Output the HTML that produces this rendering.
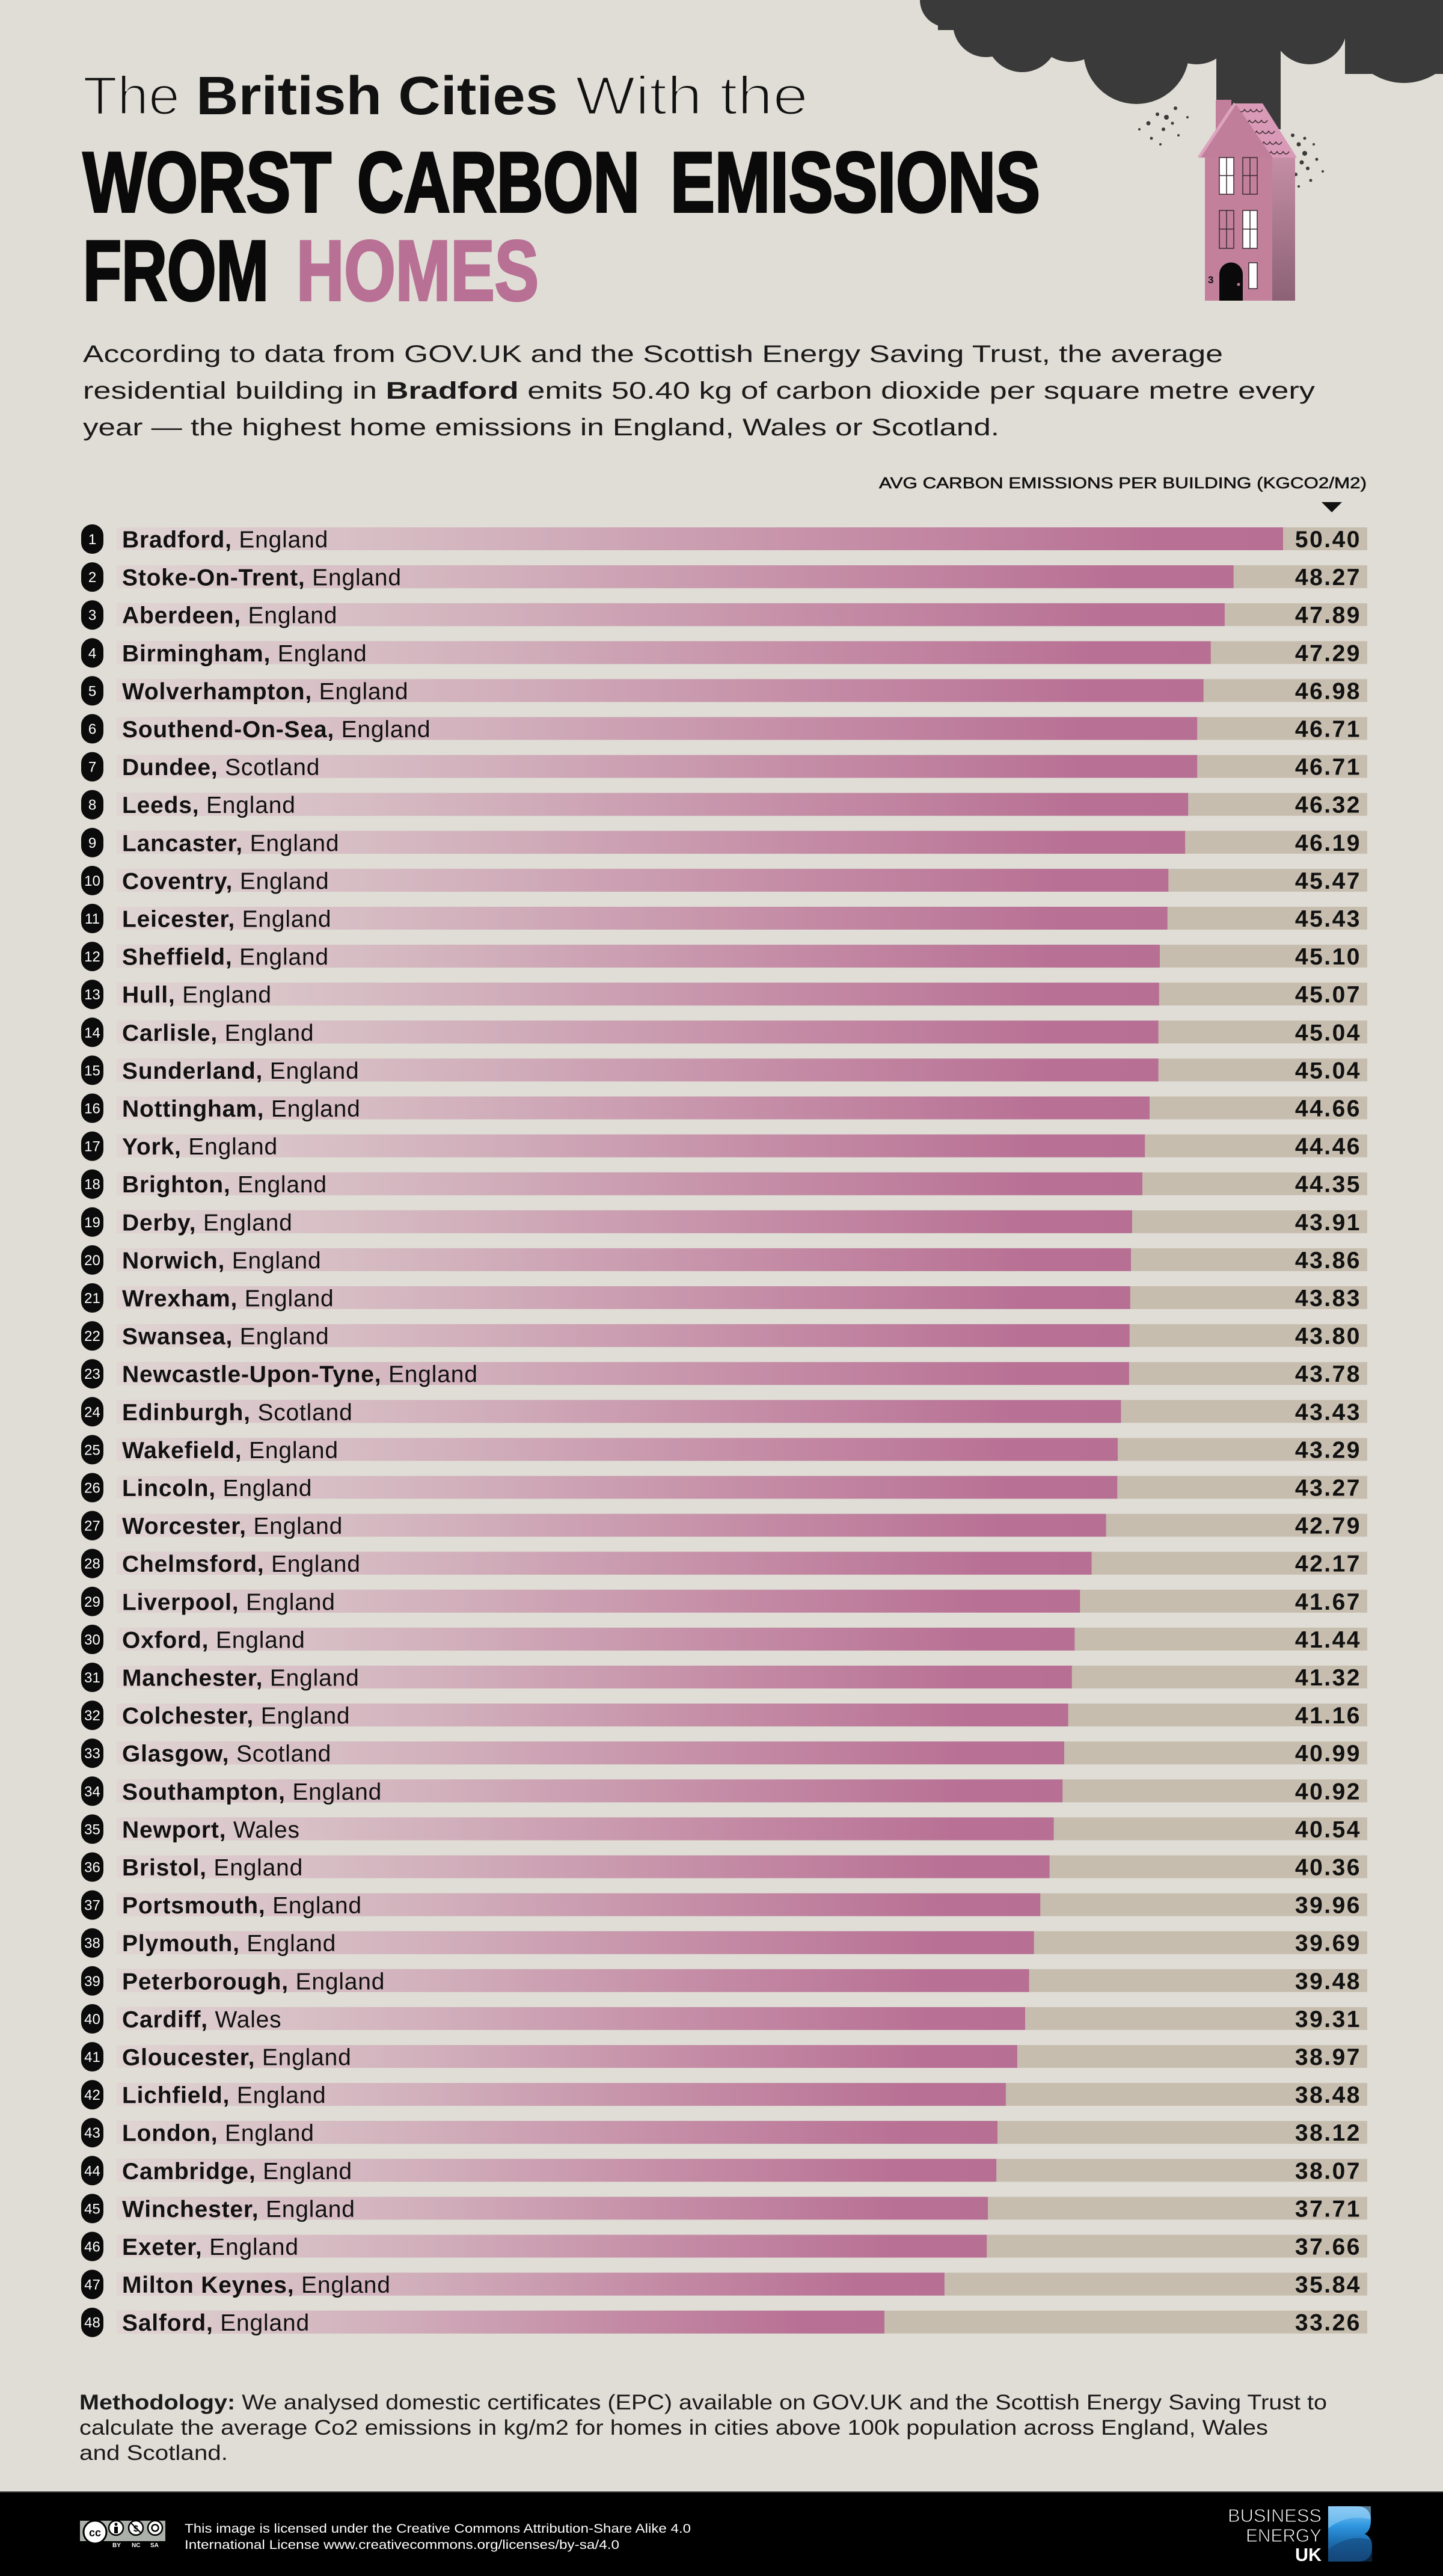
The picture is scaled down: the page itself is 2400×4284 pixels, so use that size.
<!DOCTYPE html>
<html>
<head>
<meta charset="utf-8">
<style>
html,body{margin:0;padding:0;background:#e0ddd6;}
body{width:2400px;height:4284px;overflow:hidden;}
svg{display:block;}
.t{fill:#c6bdaf}
.p{fill:url(#pg)}
.b{fill:#0b0b0b}
.k{fill:#fff;font-size:24px;text-anchor:middle;font-family:"Liberation Sans",Arial,sans-serif}
.n{font-size:39px;letter-spacing:0.8px;fill:#111;font-family:"Liberation Sans",Arial,sans-serif}
.bd{font-weight:700}
.v{font-size:39px;font-weight:700;text-anchor:end;letter-spacing:2.5px;fill:#111;font-family:"Liberation Sans",Arial,sans-serif}
text{font-family:"Liberation Sans",Arial,sans-serif}
</style>
</head>
<body>
<svg width="2400" height="4284" viewBox="0 0 2400 4284" xmlns="http://www.w3.org/2000/svg">
<defs>
<linearGradient id="pg" x1="0" y1="0" x2="1" y2="0">
<stop offset="0" stop-color="#e0d5d3"/>
<stop offset="0.35" stop-color="#d1afbb"/>
<stop offset="0.65" stop-color="#c48ba5"/>
<stop offset="0.9" stop-color="#b87094"/>
<stop offset="1" stop-color="#b76f94"/>
</linearGradient>
<linearGradient id="side" x1="0" y1="0" x2="0" y2="1">
<stop offset="0" stop-color="#c48ea4"/>
<stop offset="1" stop-color="#8c6176"/>
</linearGradient>
<linearGradient id="blu" x1="0" y1="0" x2="0" y2="1">
<stop offset="0" stop-color="#8fcdf7"/>
<stop offset="0.35" stop-color="#2f97e0"/>
<stop offset="0.65" stop-color="#1c6db0"/>
<stop offset="1" stop-color="#154a80"/>
</linearGradient>
</defs>
<rect x="0" y="0" width="2400" height="4284" fill="#e0ddd6"/>

<!-- cloud -->
<g fill="#3a3a3a">
<rect x="1560" y="0" width="840" height="50"/>
<circle cx="1575" cy="0" r="45"/>
<circle cx="1640" cy="40" r="55"/>
<circle cx="1700" cy="60" r="60"/>
<circle cx="1780" cy="40" r="63"/>
<circle cx="1890" cy="85" r="88"/>
<circle cx="1990" cy="45" r="62"/>
<rect x="2023" y="0" width="107" height="215"/>
<circle cx="2178" cy="45" r="62"/>
<circle cx="2335" cy="40" r="98"/>
<rect x="2237" y="0" width="163" height="123"/>
<circle cx="1955" cy="180" r="3"/><circle cx="1940" cy="195" r="4"/><circle cx="1925" cy="190" r="3"/>
<circle cx="1910" cy="205" r="3.5"/><circle cx="1935" cy="215" r="3"/><circle cx="1950" cy="205" r="2.5"/>
<circle cx="1915" cy="230" r="2.5"/><circle cx="1960" cy="225" r="2"/><circle cx="1895" cy="215" r="2"/>
<circle cx="1975" cy="195" r="2"/><circle cx="1930" cy="240" r="2"/>
<circle cx="2150" cy="225" r="3"/><circle cx="2160" cy="240" r="3.5"/><circle cx="2170" cy="255" r="4"/>
<circle cx="2165" cy="270" r="3.5"/><circle cx="2175" cy="280" r="3"/><circle cx="2155" cy="290" r="3"/>
<circle cx="2180" cy="300" r="2.5"/><circle cx="2190" cy="265" r="2.5"/><circle cx="2185" cy="240" r="2"/>
<circle cx="2160" cy="310" r="2"/><circle cx="2200" cy="285" r="2"/><circle cx="2170" cy="230" r="2.5"/>
<circle cx="2150" cy="260" r="3"/>
</g>

<!-- house -->
<rect x="2022" y="166" width="26" height="60" fill="#c27f9c"/>
<polygon points="2054,172 2100,172 2157,262 2117,262" fill="#d89ab6"/>
<g stroke="#3b2a31" stroke-width="1.5" fill="none">
<path d="M2060,182 q5,8 10,0 q5,8 10,0 q5,8 10,0 q5,8 10,0"/>
<path d="M2068,200 q5,8 10,0 q5,8 10,0 q5,8 10,0 q5,8 10,0"/>
<path d="M2080,218 q5,8 10,0 q5,8 10,0 q5,8 10,0 q5,8 10,0"/>
<path d="M2092,236 q5,8 10,0 q5,8 10,0 q5,8 10,0 q5,8 10,0"/>
<path d="M2104,252 q5,8 10,0 q5,8 10,0 q5,8 10,0 q5,8 10,0"/>
</g>
<polygon points="1994,262 2054,172 2117,262" fill="#c07e9a"/>
<path d="M1994,262 L2054,172" stroke="#dca5bd" stroke-width="5"/>
<rect x="2004" y="262" width="112" height="238" fill="#c2809b"/>
<rect x="2116" y="262" width="38" height="238" fill="url(#side)"/>
<g stroke="#3b2a31" stroke-width="1.5">
<rect x="2028" y="262" width="24" height="61" fill="#fff"/>
<rect x="2067" y="262" width="24" height="61" fill="#c2809b"/>
<rect x="2028" y="350" width="24" height="63" fill="#c2809b"/>
<rect x="2067" y="350" width="24" height="63" fill="#fff"/>
<line x1="2040" y1="262" x2="2040" y2="323"/><line x1="2028" y1="292" x2="2052" y2="292"/>
<line x1="2079" y1="262" x2="2079" y2="323"/><line x1="2067" y1="292" x2="2091" y2="292"/>
<line x1="2040" y1="350" x2="2040" y2="413"/><line x1="2028" y1="381" x2="2052" y2="381"/>
<line x1="2079" y1="350" x2="2079" y2="413"/><line x1="2067" y1="381" x2="2091" y2="381"/>
<rect x="2077" y="437" width="14" height="43" fill="#fff"/>
</g>
<path d="M2028,500 V456 a19.5,19.5 0 0 1 39,0 V500 Z" fill="#0a0a0a"/>
<circle cx="2060" cy="473" r="2.5" fill="#c2809b"/>
<text x="2009" y="471" font-size="17" font-weight="700" fill="#111">3</text>

<!-- title -->
<text x="138" y="190" font-size="90" textLength="161" lengthAdjust="spacingAndGlyphs" fill="#111" stroke="#e0ddd6" stroke-width="3">The</text>
<text x="326" y="190" font-size="90" font-weight="700" textLength="602" lengthAdjust="spacingAndGlyphs" fill="#111">British Cities</text>
<text x="957" y="190" font-size="90" textLength="387" lengthAdjust="spacingAndGlyphs" fill="#111" stroke="#e0ddd6" stroke-width="3">With the</text>

<g font-size="142" font-weight="700" fill="#0a0a0a" stroke="#0a0a0a" stroke-width="4">
<text x="138" y="352" textLength="413" lengthAdjust="spacingAndGlyphs">WORST</text>
<text x="594" y="352" textLength="470" lengthAdjust="spacingAndGlyphs">CARBON</text>
<text x="1115" y="352" textLength="615" lengthAdjust="spacingAndGlyphs">EMISSIONS</text>
<text x="138" y="499" textLength="309" lengthAdjust="spacingAndGlyphs">FROM</text>
</g>
<text x="493" y="499" font-size="142" font-weight="700" fill="#b87094" stroke="#b87094" stroke-width="4" textLength="403" lengthAdjust="spacingAndGlyphs">HOMES</text>

<!-- paragraph -->
<g font-size="40" fill="#1a1a1a">
<text x="138" y="602" textLength="1896" lengthAdjust="spacingAndGlyphs">According to data from GOV.UK and the Scottish Energy Saving Trust, the average</text>
<text x="138" y="663" textLength="2049" lengthAdjust="spacingAndGlyphs">residential building in <tspan font-weight="700">Bradford</tspan> emits 50.40 kg of carbon dioxide per square metre every</text>
<text x="138" y="724" textLength="1524" lengthAdjust="spacingAndGlyphs">year — the highest home emissions in England, Wales or Scotland.</text>
</g>

<text x="1462" y="812" font-size="26" fill="#111" stroke="#111" stroke-width="0.6" textLength="811" lengthAdjust="spacingAndGlyphs">AVG CARBON EMISSIONS PER BUILDING (KGCO2/M2)</text>
<polygon points="2198,835 2232,835 2215,852" fill="#111"/>

<!-- rows -->
<g transform="translate(0,877)"><rect class="t" x="194" width="2080" height="38"/><rect class="p" x="194" width="1940.0" height="38"/><rect class="b" x="135" y="-5" width="37" height="49" rx="18.5"/><text class="k" x="153.5" y="28">1</text><text class="n" x="203" y="33.5"><tspan class="bd">Bradford,</tspan> England</text><text class="v" x="2264" y="33">50.40</text></g>
<g transform="translate(0,940.1)"><rect class="t" x="194" width="2080" height="38"/><rect class="p" x="194" width="1857.6" height="38"/><rect class="b" x="135" y="-5" width="37" height="49" rx="18.5"/><text class="k" x="153.5" y="28">2</text><text class="n" x="203" y="33.5"><tspan class="bd">Stoke-On-Trent,</tspan> England</text><text class="v" x="2264" y="33">48.27</text></g>
<g transform="translate(0,1003.2)"><rect class="t" x="194" width="2080" height="38"/><rect class="p" x="194" width="1842.9" height="38"/><rect class="b" x="135" y="-5" width="37" height="49" rx="18.5"/><text class="k" x="153.5" y="28">3</text><text class="n" x="203" y="33.5"><tspan class="bd">Aberdeen,</tspan> England</text><text class="v" x="2264" y="33">47.89</text></g>
<g transform="translate(0,1066.3)"><rect class="t" x="194" width="2080" height="38"/><rect class="p" x="194" width="1819.7" height="38"/><rect class="b" x="135" y="-5" width="37" height="49" rx="18.5"/><text class="k" x="153.5" y="28">4</text><text class="n" x="203" y="33.5"><tspan class="bd">Birmingham,</tspan> England</text><text class="v" x="2264" y="33">47.29</text></g>
<g transform="translate(0,1129.4)"><rect class="t" x="194" width="2080" height="38"/><rect class="p" x="194" width="1807.7" height="38"/><rect class="b" x="135" y="-5" width="37" height="49" rx="18.5"/><text class="k" x="153.5" y="28">5</text><text class="n" x="203" y="33.5"><tspan class="bd">Wolverhampton,</tspan> England</text><text class="v" x="2264" y="33">46.98</text></g>
<g transform="translate(0,1192.5)"><rect class="t" x="194" width="2080" height="38"/><rect class="p" x="194" width="1797.2" height="38"/><rect class="b" x="135" y="-5" width="37" height="49" rx="18.5"/><text class="k" x="153.5" y="28">6</text><text class="n" x="203" y="33.5"><tspan class="bd">Southend-On-Sea,</tspan> England</text><text class="v" x="2264" y="33">46.71</text></g>
<g transform="translate(0,1255.6)"><rect class="t" x="194" width="2080" height="38"/><rect class="p" x="194" width="1797.2" height="38"/><rect class="b" x="135" y="-5" width="37" height="49" rx="18.5"/><text class="k" x="153.5" y="28">7</text><text class="n" x="203" y="33.5"><tspan class="bd">Dundee,</tspan> Scotland</text><text class="v" x="2264" y="33">46.71</text></g>
<g transform="translate(0,1318.7)"><rect class="t" x="194" width="2080" height="38"/><rect class="p" x="194" width="1782.2" height="38"/><rect class="b" x="135" y="-5" width="37" height="49" rx="18.5"/><text class="k" x="153.5" y="28">8</text><text class="n" x="203" y="33.5"><tspan class="bd">Leeds,</tspan> England</text><text class="v" x="2264" y="33">46.32</text></g>
<g transform="translate(0,1381.8)"><rect class="t" x="194" width="2080" height="38"/><rect class="p" x="194" width="1777.1" height="38"/><rect class="b" x="135" y="-5" width="37" height="49" rx="18.5"/><text class="k" x="153.5" y="28">9</text><text class="n" x="203" y="33.5"><tspan class="bd">Lancaster,</tspan> England</text><text class="v" x="2264" y="33">46.19</text></g>
<g transform="translate(0,1444.9)"><rect class="t" x="194" width="2080" height="38"/><rect class="p" x="194" width="1749.3" height="38"/><rect class="b" x="135" y="-5" width="37" height="49" rx="18.5"/><text class="k" x="153.5" y="28">10</text><text class="n" x="203" y="33.5"><tspan class="bd">Coventry,</tspan> England</text><text class="v" x="2264" y="33">45.47</text></g>
<g transform="translate(0,1508)"><rect class="t" x="194" width="2080" height="38"/><rect class="p" x="194" width="1747.7" height="38"/><rect class="b" x="135" y="-5" width="37" height="49" rx="18.5"/><text class="k" x="153.5" y="28">11</text><text class="n" x="203" y="33.5"><tspan class="bd">Leicester,</tspan> England</text><text class="v" x="2264" y="33">45.43</text></g>
<g transform="translate(0,1571.1)"><rect class="t" x="194" width="2080" height="38"/><rect class="p" x="194" width="1735.0" height="38"/><rect class="b" x="135" y="-5" width="37" height="49" rx="18.5"/><text class="k" x="153.5" y="28">12</text><text class="n" x="203" y="33.5"><tspan class="bd">Sheffield,</tspan> England</text><text class="v" x="2264" y="33">45.10</text></g>
<g transform="translate(0,1634.2)"><rect class="t" x="194" width="2080" height="38"/><rect class="p" x="194" width="1733.8" height="38"/><rect class="b" x="135" y="-5" width="37" height="49" rx="18.5"/><text class="k" x="153.5" y="28">13</text><text class="n" x="203" y="33.5"><tspan class="bd">Hull,</tspan> England</text><text class="v" x="2264" y="33">45.07</text></g>
<g transform="translate(0,1697.3)"><rect class="t" x="194" width="2080" height="38"/><rect class="p" x="194" width="1732.6" height="38"/><rect class="b" x="135" y="-5" width="37" height="49" rx="18.5"/><text class="k" x="153.5" y="28">14</text><text class="n" x="203" y="33.5"><tspan class="bd">Carlisle,</tspan> England</text><text class="v" x="2264" y="33">45.04</text></g>
<g transform="translate(0,1760.4)"><rect class="t" x="194" width="2080" height="38"/><rect class="p" x="194" width="1732.6" height="38"/><rect class="b" x="135" y="-5" width="37" height="49" rx="18.5"/><text class="k" x="153.5" y="28">15</text><text class="n" x="203" y="33.5"><tspan class="bd">Sunderland,</tspan> England</text><text class="v" x="2264" y="33">45.04</text></g>
<g transform="translate(0,1823.5)"><rect class="t" x="194" width="2080" height="38"/><rect class="p" x="194" width="1718.0" height="38"/><rect class="b" x="135" y="-5" width="37" height="49" rx="18.5"/><text class="k" x="153.5" y="28">16</text><text class="n" x="203" y="33.5"><tspan class="bd">Nottingham,</tspan> England</text><text class="v" x="2264" y="33">44.66</text></g>
<g transform="translate(0,1886.6)"><rect class="t" x="194" width="2080" height="38"/><rect class="p" x="194" width="1710.2" height="38"/><rect class="b" x="135" y="-5" width="37" height="49" rx="18.5"/><text class="k" x="153.5" y="28">17</text><text class="n" x="203" y="33.5"><tspan class="bd">York,</tspan> England</text><text class="v" x="2264" y="33">44.46</text></g>
<g transform="translate(0,1949.7)"><rect class="t" x="194" width="2080" height="38"/><rect class="p" x="194" width="1706.0" height="38"/><rect class="b" x="135" y="-5" width="37" height="49" rx="18.5"/><text class="k" x="153.5" y="28">18</text><text class="n" x="203" y="33.5"><tspan class="bd">Brighton,</tspan> England</text><text class="v" x="2264" y="33">44.35</text></g>
<g transform="translate(0,2012.8)"><rect class="t" x="194" width="2080" height="38"/><rect class="p" x="194" width="1688.9" height="38"/><rect class="b" x="135" y="-5" width="37" height="49" rx="18.5"/><text class="k" x="153.5" y="28">19</text><text class="n" x="203" y="33.5"><tspan class="bd">Derby,</tspan> England</text><text class="v" x="2264" y="33">43.91</text></g>
<g transform="translate(0,2075.9)"><rect class="t" x="194" width="2080" height="38"/><rect class="p" x="194" width="1687.0" height="38"/><rect class="b" x="135" y="-5" width="37" height="49" rx="18.5"/><text class="k" x="153.5" y="28">20</text><text class="n" x="203" y="33.5"><tspan class="bd">Norwich,</tspan> England</text><text class="v" x="2264" y="33">43.86</text></g>
<g transform="translate(0,2139)"><rect class="t" x="194" width="2080" height="38"/><rect class="p" x="194" width="1685.8" height="38"/><rect class="b" x="135" y="-5" width="37" height="49" rx="18.5"/><text class="k" x="153.5" y="28">21</text><text class="n" x="203" y="33.5"><tspan class="bd">Wrexham,</tspan> England</text><text class="v" x="2264" y="33">43.83</text></g>
<g transform="translate(0,2202.1)"><rect class="t" x="194" width="2080" height="38"/><rect class="p" x="194" width="1684.7" height="38"/><rect class="b" x="135" y="-5" width="37" height="49" rx="18.5"/><text class="k" x="153.5" y="28">22</text><text class="n" x="203" y="33.5"><tspan class="bd">Swansea,</tspan> England</text><text class="v" x="2264" y="33">43.80</text></g>
<g transform="translate(0,2265.2)"><rect class="t" x="194" width="2080" height="38"/><rect class="p" x="194" width="1683.9" height="38"/><rect class="b" x="135" y="-5" width="37" height="49" rx="18.5"/><text class="k" x="153.5" y="28">23</text><text class="n" x="203" y="33.5"><tspan class="bd">Newcastle-Upon-Tyne,</tspan> England</text><text class="v" x="2264" y="33">43.78</text></g>
<g transform="translate(0,2328.3)"><rect class="t" x="194" width="2080" height="38"/><rect class="p" x="194" width="1670.4" height="38"/><rect class="b" x="135" y="-5" width="37" height="49" rx="18.5"/><text class="k" x="153.5" y="28">24</text><text class="n" x="203" y="33.5"><tspan class="bd">Edinburgh,</tspan> Scotland</text><text class="v" x="2264" y="33">43.43</text></g>
<g transform="translate(0,2391.4)"><rect class="t" x="194" width="2080" height="38"/><rect class="p" x="194" width="1665.0" height="38"/><rect class="b" x="135" y="-5" width="37" height="49" rx="18.5"/><text class="k" x="153.5" y="28">25</text><text class="n" x="203" y="33.5"><tspan class="bd">Wakefield,</tspan> England</text><text class="v" x="2264" y="33">43.29</text></g>
<g transform="translate(0,2454.5)"><rect class="t" x="194" width="2080" height="38"/><rect class="p" x="194" width="1664.2" height="38"/><rect class="b" x="135" y="-5" width="37" height="49" rx="18.5"/><text class="k" x="153.5" y="28">26</text><text class="n" x="203" y="33.5"><tspan class="bd">Lincoln,</tspan> England</text><text class="v" x="2264" y="33">43.27</text></g>
<g transform="translate(0,2517.6)"><rect class="t" x="194" width="2080" height="38"/><rect class="p" x="194" width="1645.6" height="38"/><rect class="b" x="135" y="-5" width="37" height="49" rx="18.5"/><text class="k" x="153.5" y="28">27</text><text class="n" x="203" y="33.5"><tspan class="bd">Worcester,</tspan> England</text><text class="v" x="2264" y="33">42.79</text></g>
<g transform="translate(0,2580.7)"><rect class="t" x="194" width="2080" height="38"/><rect class="p" x="194" width="1621.6" height="38"/><rect class="b" x="135" y="-5" width="37" height="49" rx="18.5"/><text class="k" x="153.5" y="28">28</text><text class="n" x="203" y="33.5"><tspan class="bd">Chelmsford,</tspan> England</text><text class="v" x="2264" y="33">42.17</text></g>
<g transform="translate(0,2643.8)"><rect class="t" x="194" width="2080" height="38"/><rect class="p" x="194" width="1602.3" height="38"/><rect class="b" x="135" y="-5" width="37" height="49" rx="18.5"/><text class="k" x="153.5" y="28">29</text><text class="n" x="203" y="33.5"><tspan class="bd">Liverpool,</tspan> England</text><text class="v" x="2264" y="33">41.67</text></g>
<g transform="translate(0,2706.9)"><rect class="t" x="194" width="2080" height="38"/><rect class="p" x="194" width="1593.4" height="38"/><rect class="b" x="135" y="-5" width="37" height="49" rx="18.5"/><text class="k" x="153.5" y="28">30</text><text class="n" x="203" y="33.5"><tspan class="bd">Oxford,</tspan> England</text><text class="v" x="2264" y="33">41.44</text></g>
<g transform="translate(0,2770)"><rect class="t" x="194" width="2080" height="38"/><rect class="p" x="194" width="1588.8" height="38"/><rect class="b" x="135" y="-5" width="37" height="49" rx="18.5"/><text class="k" x="153.5" y="28">31</text><text class="n" x="203" y="33.5"><tspan class="bd">Manchester,</tspan> England</text><text class="v" x="2264" y="33">41.32</text></g>
<g transform="translate(0,2833.1)"><rect class="t" x="194" width="2080" height="38"/><rect class="p" x="194" width="1582.6" height="38"/><rect class="b" x="135" y="-5" width="37" height="49" rx="18.5"/><text class="k" x="153.5" y="28">32</text><text class="n" x="203" y="33.5"><tspan class="bd">Colchester,</tspan> England</text><text class="v" x="2264" y="33">41.16</text></g>
<g transform="translate(0,2896.2)"><rect class="t" x="194" width="2080" height="38"/><rect class="p" x="194" width="1576.0" height="38"/><rect class="b" x="135" y="-5" width="37" height="49" rx="18.5"/><text class="k" x="153.5" y="28">33</text><text class="n" x="203" y="33.5"><tspan class="bd">Glasgow,</tspan> Scotland</text><text class="v" x="2264" y="33">40.99</text></g>
<g transform="translate(0,2959.3)"><rect class="t" x="194" width="2080" height="38"/><rect class="p" x="194" width="1573.3" height="38"/><rect class="b" x="135" y="-5" width="37" height="49" rx="18.5"/><text class="k" x="153.5" y="28">34</text><text class="n" x="203" y="33.5"><tspan class="bd">Southampton,</tspan> England</text><text class="v" x="2264" y="33">40.92</text></g>
<g transform="translate(0,3022.4)"><rect class="t" x="194" width="2080" height="38"/><rect class="p" x="194" width="1558.6" height="38"/><rect class="b" x="135" y="-5" width="37" height="49" rx="18.5"/><text class="k" x="153.5" y="28">35</text><text class="n" x="203" y="33.5"><tspan class="bd">Newport,</tspan> Wales</text><text class="v" x="2264" y="33">40.54</text></g>
<g transform="translate(0,3085.5)"><rect class="t" x="194" width="2080" height="38"/><rect class="p" x="194" width="1551.6" height="38"/><rect class="b" x="135" y="-5" width="37" height="49" rx="18.5"/><text class="k" x="153.5" y="28">36</text><text class="n" x="203" y="33.5"><tspan class="bd">Bristol,</tspan> England</text><text class="v" x="2264" y="33">40.36</text></g>
<g transform="translate(0,3148.6)"><rect class="t" x="194" width="2080" height="38"/><rect class="p" x="194" width="1536.2" height="38"/><rect class="b" x="135" y="-5" width="37" height="49" rx="18.5"/><text class="k" x="153.5" y="28">37</text><text class="n" x="203" y="33.5"><tspan class="bd">Portsmouth,</tspan> England</text><text class="v" x="2264" y="33">39.96</text></g>
<g transform="translate(0,3211.7)"><rect class="t" x="194" width="2080" height="38"/><rect class="p" x="194" width="1525.7" height="38"/><rect class="b" x="135" y="-5" width="37" height="49" rx="18.5"/><text class="k" x="153.5" y="28">38</text><text class="n" x="203" y="33.5"><tspan class="bd">Plymouth,</tspan> England</text><text class="v" x="2264" y="33">39.69</text></g>
<g transform="translate(0,3274.8)"><rect class="t" x="194" width="2080" height="38"/><rect class="p" x="194" width="1517.6" height="38"/><rect class="b" x="135" y="-5" width="37" height="49" rx="18.5"/><text class="k" x="153.5" y="28">39</text><text class="n" x="203" y="33.5"><tspan class="bd">Peterborough,</tspan> England</text><text class="v" x="2264" y="33">39.48</text></g>
<g transform="translate(0,3337.9)"><rect class="t" x="194" width="2080" height="38"/><rect class="p" x="194" width="1511.0" height="38"/><rect class="b" x="135" y="-5" width="37" height="49" rx="18.5"/><text class="k" x="153.5" y="28">40</text><text class="n" x="203" y="33.5"><tspan class="bd">Cardiff,</tspan> Wales</text><text class="v" x="2264" y="33">39.31</text></g>
<g transform="translate(0,3401)"><rect class="t" x="194" width="2080" height="38"/><rect class="p" x="194" width="1497.9" height="38"/><rect class="b" x="135" y="-5" width="37" height="49" rx="18.5"/><text class="k" x="153.5" y="28">41</text><text class="n" x="203" y="33.5"><tspan class="bd">Gloucester,</tspan> England</text><text class="v" x="2264" y="33">38.97</text></g>
<g transform="translate(0,3464.1)"><rect class="t" x="194" width="2080" height="38"/><rect class="p" x="194" width="1478.9" height="38"/><rect class="b" x="135" y="-5" width="37" height="49" rx="18.5"/><text class="k" x="153.5" y="28">42</text><text class="n" x="203" y="33.5"><tspan class="bd">Lichfield,</tspan> England</text><text class="v" x="2264" y="33">38.48</text></g>
<g transform="translate(0,3527.2)"><rect class="t" x="194" width="2080" height="38"/><rect class="p" x="194" width="1465.0" height="38"/><rect class="b" x="135" y="-5" width="37" height="49" rx="18.5"/><text class="k" x="153.5" y="28">43</text><text class="n" x="203" y="33.5"><tspan class="bd">London,</tspan> England</text><text class="v" x="2264" y="33">38.12</text></g>
<g transform="translate(0,3590.3)"><rect class="t" x="194" width="2080" height="38"/><rect class="p" x="194" width="1463.1" height="38"/><rect class="b" x="135" y="-5" width="37" height="49" rx="18.5"/><text class="k" x="153.5" y="28">44</text><text class="n" x="203" y="33.5"><tspan class="bd">Cambridge,</tspan> England</text><text class="v" x="2264" y="33">38.07</text></g>
<g transform="translate(0,3653.4)"><rect class="t" x="194" width="2080" height="38"/><rect class="p" x="194" width="1449.1" height="38"/><rect class="b" x="135" y="-5" width="37" height="49" rx="18.5"/><text class="k" x="153.5" y="28">45</text><text class="n" x="203" y="33.5"><tspan class="bd">Winchester,</tspan> England</text><text class="v" x="2264" y="33">37.71</text></g>
<g transform="translate(0,3716.5)"><rect class="t" x="194" width="2080" height="38"/><rect class="p" x="194" width="1447.2" height="38"/><rect class="b" x="135" y="-5" width="37" height="49" rx="18.5"/><text class="k" x="153.5" y="28">46</text><text class="n" x="203" y="33.5"><tspan class="bd">Exeter,</tspan> England</text><text class="v" x="2264" y="33">37.66</text></g>
<g transform="translate(0,3779.6)"><rect class="t" x="194" width="2080" height="38"/><rect class="p" x="194" width="1376.8" height="38"/><rect class="b" x="135" y="-5" width="37" height="49" rx="18.5"/><text class="k" x="153.5" y="28">47</text><text class="n" x="203" y="33.5"><tspan class="bd">Milton Keynes,</tspan> England</text><text class="v" x="2264" y="33">35.84</text></g>
<g transform="translate(0,3842.7)"><rect class="t" x="194" width="2080" height="38"/><rect class="p" x="194" width="1277.0" height="38"/><rect class="b" x="135" y="-5" width="37" height="49" rx="18.5"/><text class="k" x="153.5" y="28">48</text><text class="n" x="203" y="33.5"><tspan class="bd">Salford,</tspan> England</text><text class="v" x="2264" y="33">33.26</text></g>

<!-- methodology -->
<g font-size="35" fill="#1a1a1a">
<text x="132" y="4007" textLength="2075" lengthAdjust="spacingAndGlyphs"><tspan font-weight="700">Methodology:</tspan> We analysed domestic certificates (EPC) available on GOV.UK and the Scottish Energy Saving Trust to</text>
<text x="132" y="4049" textLength="1977" lengthAdjust="spacingAndGlyphs">calculate the average Co2 emissions in kg/m2 for homes in cities above 100k population across England, Wales</text>
<text x="132" y="4091" textLength="247" lengthAdjust="spacingAndGlyphs">and Scotland.</text>
</g>

<!-- footer -->
<rect x="0" y="4143" width="2400" height="2" fill="#555"/>
<rect x="0" y="4145" width="2400" height="139" fill="#000"/>
<rect x="133" y="4192" width="142" height="34" fill="#abb1aa"/>
<circle cx="158" cy="4211" r="19" fill="#fff" stroke="#000" stroke-width="3"/>
<text x="158" y="4218" font-size="18" font-weight="700" text-anchor="middle" fill="#000">cc</text>
<circle cx="193" cy="4204" r="12" fill="#fff" stroke="#000" stroke-width="2.5"/>
<circle cx="193" cy="4198" r="2.5" fill="#000"/><rect x="190" y="4202" width="6" height="11" fill="#000"/>
<circle cx="226" cy="4204" r="12" fill="#fff" stroke="#000" stroke-width="2.5"/>
<text x="226" y="4210" font-size="15" font-weight="700" text-anchor="middle" fill="#000">$</text>
<line x1="217" y1="4195" x2="235" y2="4213" stroke="#000" stroke-width="2"/>
<circle cx="258" cy="4204" r="12" fill="#fff" stroke="#000" stroke-width="2.5"/>
<circle cx="258" cy="4204" r="5.5" fill="none" stroke="#000" stroke-width="2.5"/>
<g font-size="10" font-weight="700" fill="#fff">
<text x="187" y="4236">BY</text><text x="219" y="4236">NC</text><text x="250" y="4236">SA</text>
</g>
<g font-size="21" fill="#fff">
<text x="307" y="4212" textLength="842" lengthAdjust="spacingAndGlyphs">This image is licensed under the Creative Commons Attribution-Share Alike 4.0</text>
<text x="307" y="4239" textLength="723" lengthAdjust="spacingAndGlyphs">International License www.creativecommons.org/licenses/by-sa/4.0</text>
</g>
<text x="2042" y="4194" font-size="31" fill="#fff" stroke="#000" stroke-width="1" textLength="156" lengthAdjust="spacingAndGlyphs">BUSINESS</text>
<text x="2072" y="4227" font-size="31" fill="#fff" stroke="#000" stroke-width="1" textLength="126" lengthAdjust="spacingAndGlyphs">ENERGY</text>
<text x="2154" y="4259" font-size="31" font-weight="700" fill="#fff" textLength="44" lengthAdjust="spacingAndGlyphs">UK</text>
<path d="M2209,4168 H2256 Q2280,4168 2280,4192 Q2280,4208 2270,4214 Q2282,4220 2282,4236 Q2282,4260 2258,4260 H2209 Z" fill="url(#blu)"/>
<path d="M2209,4205 Q2240,4180 2280,4190 L2280,4168 L2209,4168 Z" fill="#8ecbf5" opacity="0.6"/>
<path d="M2209,4240 Q2245,4212 2282,4225 L2282,4260 L2209,4260 Z" fill="#134272" opacity="0.5"/>
</svg>
</body>
</html>
